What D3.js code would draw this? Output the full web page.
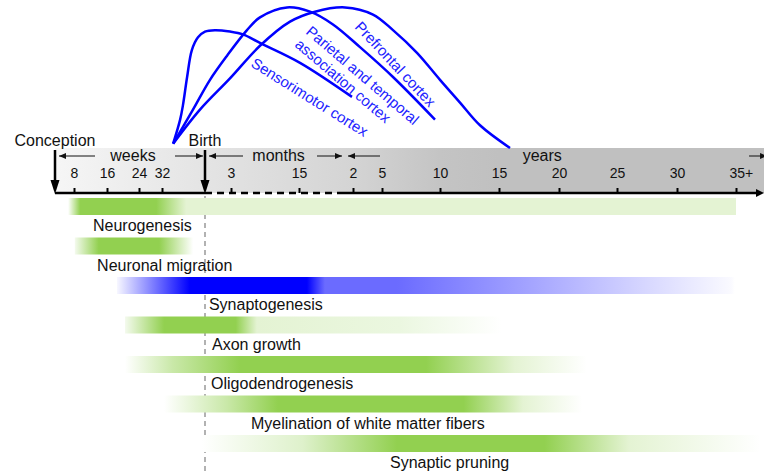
<!DOCTYPE html>
<html>
<head>
<meta charset="utf-8">
<script src="https://cdn.jsdelivr.net/npm/d3@7"></script>
<style>
  body { margin: 0; background: #fff; }
  svg { display: block; font-family: "Liberation Sans", Arial, sans-serif; }
</style>
</head>
<body>
<div id="chart"></div>
<script>
// Ages are in years relative to birth; prenatal ages are given in gestational weeks
const wk = w => (w - 40) / 52;
const mo = m => m / 12;

// Tick labels of the timeline
const weekTicks = [8, 16, 24, 32];
const monthTicks = [3, 15];
const yearTicks = [2, 5, 10, 15, 20, 25, 30, 35];

// Knots of the uneven timeline (the axis changes unit twice)
const axisAges = [wk(0), wk(8), wk(16), wk(24), wk(32), 0, mo(3), mo(15), 2, 5, 10, 15, 20, 25, 30, 35];

// Developmental processes, top to bottom
const processes = ["Neurogenesis", "Neuronal migration", "Synaptogenesis", "Axon growth",
  "Oligodendrogenesis", "Myelination of white matter fibers", "Synaptic pruning"];
const processColor = ["green", "green", "blue", "green", "green", "green", "green"];

// Intensity along each bar: [age, intensity 0..1]
const neurogenesis = [[wk(5.5), 0], [wk(9.5), 1], [wk(30), 1], [wk(36.5), 0.25], [35, 0.25]];
const migration = [[wk(8.2), 0.1], [wk(14), 1], [wk(31), 1], [wk(37.8), 0]];
const synaptogenesis = [[wk(18.5), 0.03], [wk(37.2), 1], [1.36, 1], [1.61, 0.58], [6.3, 0.58], [17, 0.37], [27.8, 0.15], [34.6, 0.02], [34.9, 0]];
const axonGrowth = [[wk(20.5), 0.1], [wk(32.4), 1], [0.32, 1], [0.63, 0.25], [6.5, 0.18], [15.2, 0]];
const oligodendrogenesis = [[wk(20.5), 0], [wk(34), 0.5], [0.38, 1], [8.8, 1], [16.3, 0.25], [22.4, 0]];
const myelination = [[wk(32.4), 0], [0.21, 0.5], [0.94, 1], [12, 1], [17, 0.25], [22, 0]];
const pruning = [[wk(39.4), 0], [1.3, 0.3], [6.3, 1], [18.8, 1], [26, 0.25], [37.1, 0]];
const processStops = [neurogenesis, migration, synaptogenesis, axonGrowth, oligodendrogenesis, myelination, pruning];

// Synapse formation curves: [age, relative density 0..100]
const sensorimotor = [[-0.114, 3], [-0.089, 20], [-0.079, 30], [-0.064, 50], [-0.047, 69], [-0.025, 78],
  [0, 82], [0.096, 83], [0.24, 82], [0.426, 80], [0.676, 74], [1.264, 60], [1.986, 36]];
const parietal = [[-0.114, 3], [-0.043, 27], [0.048, 48], [0.212, 65], [0.485, 83], [0.676, 92],
  [1.074, 99], [1.403, 96], [1.722, 87], [2.724, 71], [5.948, 50], [9.569, 20]];
const prefrontal = [[-0.114, 3], [-0.018, 27], [0.24, 49], [0.676, 72], [1.118, 89], [1.472, 96],
  [1.889, 99], [4.069, 94], [5.948, 83], [8.017, 67], [10, 48], [11.695, 32], [13.39, 16], [15.917, 0]];

// ---- layout ----
const W = 764, H = 474;
const axisY = 193, bandTop = 148;
const monthsEnd = mo(22.5);
const GREEN = "#92d050", BLUE = "#0000ff";

const svg = d3.select("#chart").append("svg")
  .attr("width", W).attr("height", H);

const x = d3.scaleLinear()
  .domain(axisAges)
  .range([55, 74, 107, 139, 162, 205, 231, 299, 353, 382, 440, 499, 559, 617, 677, 736]);

const y = d3.scaleLinear().domain([0, 100]).range([148, 6]);

const row = d3.scaleBand().domain(processes).range([198, 474.5]);
const barH = 17;

const defs = svg.append("defs");

// grey timeline band
const bandGrad = defs.append("linearGradient").attr("id", "band")
  .attr("gradientUnits", "userSpaceOnUse")
  .attr("x1", x(wk(0))).attr("x2", W).attr("y1", 0).attr("y2", 0);
bandGrad.selectAll("stop")
  .data([[wk(0), "#f6f6f6"], [0, "#e4e4e4"], [2, "#d4d4d4"], [10, "#c4c4c4"], [15, "#c0c0c0"]])
  .join("stop")
  .attr("offset", d => (x(d[0]) - x(wk(0))) / (W - x(wk(0))))
  .attr("stop-color", d => d[1]);

svg.append("rect")
  .attr("x", x(wk(0))).attr("y", bandTop)
  .attr("width", W - x(wk(0))).attr("height", axisY - bandTop)
  .attr("fill", "url(#band)");

// dashed line at birth
svg.append("line")
  .attr("x1", x(0)).attr("x2", x(0))
  .attr("y1", axisY + 3).attr("y2", H)
  .attr("stroke", "#999").attr("stroke-width", 1.5)
  .attr("stroke-dasharray", "5,4");

// process bars
const bars = processes.map((name, i) => ({ name, color: processColor[i] === "blue" ? BLUE : GREEN, stops: processStops[i] }));

bars.forEach((b, i) => {
  const x0 = x(b.stops[0][0]), x1 = x(b.stops[b.stops.length - 1][0]);
  const mix = d3.interpolateRgb("#ffffff", b.color);
  defs.append("linearGradient").attr("id", "bar" + i)
    .attr("gradientUnits", "userSpaceOnUse")
    .attr("x1", x0).attr("x2", x1).attr("y1", 0).attr("y2", 0)
    .selectAll("stop")
    .data(b.stops)
    .join("stop")
    .attr("offset", d => (x(d[0]) - x0) / (x1 - x0))
    .attr("stop-color", d => mix(d[1]));
});

svg.append("g")
  .selectAll("rect")
  .data(bars)
  .join("rect")
  .attr("x", d => x(d.stops[0][0]))
  .attr("y", d => row(d.name))
  .attr("width", d => x(d.stops[d.stops.length - 1][0]) - x(d.stops[0][0]))
  .attr("height", barH)
  .attr("fill", (d, i) => `url(#bar${i})`);

// bar labels
const labelAge = [wk(12.6), wk(13.6), 0.038, 0.067, 0.058, 0.544, 5.69];
svg.append("g")
  .attr("font-size", 16)
  .attr("fill", "#111")
  .selectAll("text")
  .data(bars)
  .join("text")
  .attr("x", (d, i) => x(labelAge[i]))
  .attr("y", d => row(d.name) + 33)
  .text(d => d.name);

// axis ticks
function tickAxis(values, fmt) {
  const g = svg.append("g")
    .attr("transform", `translate(0,${axisY})`)
    .call(d3.axisTop(x).tickValues(values).tickFormat(fmt).tickSize(5).tickPadding(10));
  g.select(".domain").remove();
  g.selectAll(".tick line").attr("stroke", "#000").attr("stroke-width", 2);
  g.selectAll(".tick text").attr("font-size", 14).attr("fill", "#111")
    .attr("font-family", "'Liberation Sans', Arial, sans-serif");
  return g;
}
tickAxis(weekTicks.map(wk), (d, i) => weekTicks[i]);
tickAxis(monthTicks.map(mo), (d, i) => monthTicks[i]);
const yrs = tickAxis(yearTicks, d => d === 35 ? "35+" : d);
yrs.selectAll(".tick text").filter(d => d === 35)
  .attr("text-anchor", "start").attr("dx", -7);

// main axis line: solid weeks, dashed months, solid years
const axisLine = svg.append("g").attr("stroke", "#000").attr("stroke-width", 2.5);
axisLine.append("line").attr("x1", x(wk(0))).attr("x2", x(0)).attr("y1", axisY).attr("y2", axisY);
axisLine.append("line").attr("x1", x(0)).attr("x2", x(monthsEnd)).attr("y1", axisY).attr("y2", axisY)
  .attr("stroke-dasharray", "7,5");
axisLine.append("line").attr("x1", x(monthsEnd)).attr("x2", W - 5).attr("y1", axisY).attr("y2", axisY);
svg.append("path")
  .attr("d", `M${W},${axisY} L${W - 8},${axisY - 4} L${W - 8},${axisY + 4}Z`)
  .attr("fill", "#000");

// conception and birth arrows
[wk(0), 0].forEach(a => {
  const cx = x(a);
  svg.append("line").attr("x1", cx).attr("x2", cx).attr("y1", 150).attr("y2", axisY - 8)
    .attr("stroke", "#000").attr("stroke-width", 2.5);
  svg.append("path")
    .attr("d", `M${cx},${axisY + 1} L${cx - 4.5},${axisY - 13} L${cx + 4.5},${axisY - 13}Z`)
    .attr("fill", "#000");
});
svg.append("g").attr("font-size", 16).attr("fill", "#111").attr("text-anchor", "middle")
  .selectAll("text")
  .data([[wk(0), "Conception"], [0, "Birth"]])
  .join("text")
  .attr("x", d => x(d[0]))
  .attr("y", 146)
  .text(d => d[1]);

// unit labels with span arrows inside the band
const arrowY = 156;
function spanArrow(xa, xb, head) {
  svg.append("line").attr("x1", xa).attr("x2", xb).attr("y1", arrowY).attr("y2", arrowY)
    .attr("stroke", "#111").attr("stroke-width", 1);
  const hx = head === "left" ? xa : xb, s = head === "left" ? 1 : -1;
  svg.append("path")
    .attr("d", `M${hx},${arrowY} L${hx + s * 7},${arrowY - 3} L${hx + s * 7},${arrowY + 3}Z`)
    .attr("fill", "#111");
}
const units = [
  { name: "weeks", from: wk(0), to: 0, at: wk(22.5), l: 40, r: 30 },
  { name: "months", from: 0, to: monthsEnd, at: mo(11.4), l: 38, r: 27 },
  { name: "years", from: monthsEnd, to: 37.8, at: 18.6, l: 36, r: 20 }
];
units.forEach(u => {
  const a = x(u.from), b = x(u.to);
  spanArrow(a + 4, a + u.l, "left");
  spanArrow(b - u.r, b - 2, "right");
  svg.append("text")
    .attr("x", x(u.at)).attr("y", 161)
    .attr("text-anchor", "middle").attr("font-size", 16).attr("fill", "#111")
    .text(u.name);
});

// synapse density curves
const line = d3.line()
  .x(d => x(d[0]))
  .y(d => y(d[1]))
  .curve(d3.curveCatmullRom.alpha(0.5));

svg.append("g")
  .attr("fill", "none").attr("stroke", BLUE).attr("stroke-width", 2.5)
  .selectAll("path")
  .data([sensorimotor, parietal, prefrontal])
  .join("path")
  .attr("d", line);

// curve labels
const curveLabels = [
  { lines: ["Sensorimotor cortex"], age: 0.529, v: 57.7, angle: 32 },
  { lines: ["Parietal and temporal", "association cortex"], age: 1.333, v: 81, angle: 40.5 },
  { lines: ["Prefrontal cortex"], age: 2.10, v: 84.9, angle: 47 }
];
curveLabels.forEach(c => {
  const t = svg.append("text")
    .attr("transform", `translate(${x(c.age)},${y(c.v)}) rotate(${c.angle})`)
    .attr("font-size", 15).attr("fill", "#2222ff");
  t.selectAll("tspan").data(c.lines).join("tspan")
    .attr("x", 0).attr("dy", (d, i) => i ? 17 : 0)
    .text(d => d);
});
</script>
</body>
</html>
